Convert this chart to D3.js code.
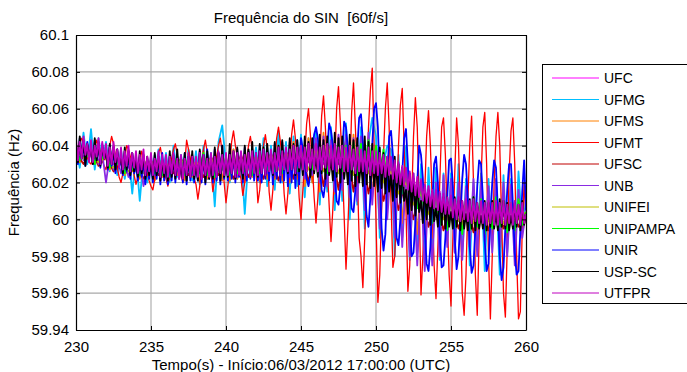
<!DOCTYPE html>
<html>
<head>
<meta charset="utf-8">
<script src="https://cdn.jsdelivr.net/npm/d3@7"></script>
<style>
  html, body { margin: 0; padding: 0; background: #fff; }
  svg { display: block; font-family: "Liberation Sans", Arial, sans-serif; }
</style>
</head>
<body>
<svg id="chart" width="687" height="372"></svg>
<script>
// Frequência do SIN, 30 s window, one trace per PMU site.
// Samples are stored as deviation from 60 Hz in mHz, evenly spaced over the window
// (each array carries its own sample count: 61, 121 or 241 points).
const F0 = 60;
const T_START = 230, T_END = 260;

const xTicks = [230, 235, 240, 245, 250, 255, 260];
const yTicks = [59.94, 59.96, 59.98, 60, 60.02, 60.04, 60.06, 60.08, 60.1];
const yTickLabels = ["59.94", "59.96", "59.98", "60", "60.02", "60.04", "60.06", "60.08", "60.1"];

const siteNames = ["UFC", "UFMG", "UFMS", "UFMT", "UFSC", "UNB", "UNIFEI", "UNIPAMPA", "UNIR", "USP-SC", "UTFPR"];
const siteColors = ["#ff00ff", "#00bfff", "#ff8000", "#ff0000", "#bf0000", "#8a2be2", "#bfbf00", "#00ff00", "#0000ff", "#000000", "#bf00bf"];

// 0.5 s spacing
const UFC = [39,34, 37,32, 35,30, 33,28, 31,27, 32,27, 31,28, 32,27, 30,28, 32,27,
  31,29, 32,28, 33,29, 34,29, 35,30, 36,31, 36,30, 35,30, 35,29, 34,29,
  32,26, 28,22, 22,16, 17,11, 12,7, 10,5, 8,4, 7,3, 6,2, 6,2, 3];

// 0.25 s spacing
const UFMG = [40,28,47,30, 49,27,44,31, 42,26,40,24, 38,22,36,14, 35,10,33,20,
  34,22,38,24, 36,20,40,23, 35,22,38,21, 37,19,40,22, 36,7,42,51,
  30,20,38,22, 36,3,34,24, 39,20,44,18, 40,16,48,20, 42,14,45,18,
  46,12,44,20, 48,8,42,15, 50,5,44,10, 52,0,40,8, 50,-5,42,55,
  45,-10,30,40, 38,-20,35,-10, 40,-22,25,-18, 30,-25,28,-15, 28,-22,25,-10,
  25,-18,30,-20, 22,-25,20,-15, 25,-28,22,-12, 20,-30,24,-18, 22,-20,26,-5, 10];

// 0.25 s spacing
const UFMS = [37,31,41,33, 36,30,40,32, 33,27,37,29, 31,24,34,26, 29,22,32,24,
  30,21,34,23, 31,22,35,24, 30,21,36,23, 32,20,37,22, 31,22,36,21,
  33,21,38,22, 32,20,37,23, 34,21,39,22, 35,22,40,21, 36,20,42,22,
  38,18,44,20, 40,15,47,18, 42,14,45,16, 40,12,46,14, 42,10,44,12,
  38,5,34,8, 30,0,28,-2, 24,-5,20,-8, 18,-8,15,-10, 15,-10,12,-8,
  14,-9,16,-6, 12,-10,14,-8, 13,-7,12,-9, 11,-8,13,-6, 12,-5,10,-7, 2];

// 0.125 s spacing, one row per second
const UFMT = [
  36,38,41,44,42,38,34,31,
  30,33,38,43,40,36,32,29,
  27,32,40,45,41,35,28,23,
  20,25,33,40,38,34,30,24,
  19,23,30,37,34,30,25,21,
  18,16,22,30,36,39,33,26,
  22,18,24,33,38,41,35,28,
  24,20,30,43,38,33,28,22,
  19,11,18,30,38,43,36,30,
  26,15,22,34,40,44,36,20,
  9,18,30,42,48,40,34,26,
  22,13,20,32,40,45,38,32,
  28,9,16,30,40,46,38,15,
  5,16,30,44,50,42,34,14,
  3,14,30,46,54,44,33,12,
  0,16,34,52,60,46,30,12,
  -2,12,32,56,67,50,28,8,
  -12,6,30,60,72,52,30,2,
  -27,-4,24,58,74,50,25,-10,
  -20,-37,-10,20,50,70,82,40,
  0,-45,-30,5,35,60,74,50,
  10,-26,-20,8,40,62,71,40,
  5,-39,-25,10,45,66,50,10,
  -41,-20,15,45,59,40,10,-25,
  -43,-15,20,50,55,35,0,-30,
  -47,-10,25,55,40,5,-40,-52,
  -30,10,40,56,20,-30,-52,-10,
  20,50,58,30,-20,-54,-20,20,
  45,58,40,0,-40,-53,-15,25,
  48,55,30,-20,-54,-50,-5,20,
  0];

// 0.5 s spacing
const UFSC = [36,30, 38,29, 34,26, 31,24, 30,22, 32,24, 30,25, 33,24, 31,23, 34,24,
  32,22, 35,23, 33,22, 36,21, 37,22, 40,20, 42,18, 41,16, 43,15, 40,14,
  35,10, 28,5, 22,0, 16,-4, 12,-6, 10,-5, 9,-7, 10,-6, 8,-5, 9,-4, 3];

// 0.25 s spacing
const UNB = [36,40,32,38, 34,39,30,36, 20,35,27,33, 25,32,23,30, 26,31,18,29,
  28,24,33,26, 30,23,34,27, 32,25,31,24, 29,26,35,25, 33,24,36,27,
  31,25,34,23, 33,24,35,26, 34,22,36,25, 32,24,38,26, 37,23,39,25,
  40,22,42,24, 44,20,45,18, 43,15,46,16, 46,12,44,10, 45,5,47,8,
  40,-5,35,0, 30,-10,28,-15, 25,-20,22,-25, 22,-28,18,-25, 20,-20,24,-15,
  22,-18,20,-22, 18,-15,22,-20, 20,-12,18,-18, 22,-15,20,-20, 19,-25,16,-10, 5];

// 0.5 s spacing
const UNIFEI = [38,33, 37,31, 34,28, 32,26, 30,25, 31,26, 30,27, 32,26, 31,27, 33,26,
  32,28, 33,27, 34,28, 35,27, 36,28, 37,27, 38,26, 39,25, 38,24, 37,25,
  33,20, 26,14, 20,8, 14,3, 11,0, 9,-1, 8,-2, 7,-1, 8,-2, 6,0, 4];

// 0.25 s spacing
const UNIPAMPA = [40,32,42,34, 38,30,40,33, 35,28,37,30, 33,25,35,27, 30,24,33,26,
  32,25,34,24, 31,23,35,26, 33,24,34,25, 30,25,36,24, 32,23,35,27,
  34,24,33,25, 32,26,35,24, 34,25,36,27, 33,26,37,25, 35,27,38,26,
  37,28,39,27, 38,26,40,25, 39,24,41,26, 40,25,42,24, 41,28,43,26,
  40,25,38,20, 32,18,30,14, 25,10,22,6, 18,2,15,-2, 14,-4,12,-6,
  12,-5,10,-8, 10,-6,12,-4, 11,-8,9,-5, 12,-4,10,-7, 9,-6,11,-3, 4];

// 0.125 s spacing, one row per second
const UNIR = [
  40,30,44,33,41,29,42,34,
  39,30,43,32,40,28,41,33,
  36,27,40,29,37,25,38,28,
  33,24,37,26,35,22,36,25,
  30,21,34,23,32,19,33,22,
  31,20,35,22,33,19,36,21,
  30,19,34,21,35,20,33,22,
  32,20,36,19,34,21,35,20,
  31,21,37,20,35,19,38,22,
  33,20,38,21,36,19,40,22,
  34,21,37,22,36,20,38,23,
  35,20,39,21,37,22,38,21,
  36,21,40,20,38,22,39,21,
  37,19,41,22,39,20,42,21,
  38,18,42,20,40,17,43,19,
  44,38,30,22,18,24,36,46,
  50,44,30,16,12,20,38,52,
  48,40,24,10,8,18,36,53,
  50,38,20,6,4,16,38,55,
  57,42,18,2,-4,12,40,60,
  63,50,22,-5,-17,-8,20,45,
  48,35,10,-10,-14,0,25,44,
  49,30,0,-20,-18,-2,20,40,
  35,22,-5,-24,-28,-15,8,30,
  34,20,-8,-26,-25,-10,12,32,
  33,18,-10,-27,-20,0,22,35,
  30,10,-15,-29,-25,-5,18,32,
  30,12,-12,-28,-24,0,20,32,
  28,5,-20,-33,-26,-4,16,30,
  30,8,-18,-30,-28,-6,15,32,
  5];

// 0.125 s spacing, one row per second
const USP_SC = [
  39,31,45,33,43,29,41,34,
  38,30,44,32,42,29,40,33,
  36,28,41,30,39,27,38,29,
  34,25,39,27,37,24,36,26,
  32,23,37,25,35,22,34,24,
  31,22,36,24,34,21,33,23,
  30,21,37,23,33,22,38,24,
  29,22,36,21,34,23,37,22,
  30,21,38,23,35,20,37,22,
  31,22,39,24,36,21,40,23,
  30,23,41,25,37,22,39,24,
  31,22,40,24,38,23,42,25,
  32,23,41,25,39,24,41,26,
  33,24,42,26,40,25,43,27,
  34,25,44,27,41,24,43,26,
  35,24,45,26,42,23,44,25,
  34,23,46,25,43,22,45,24,
  33,21,47,23,44,20,45,22,
  32,19,46,21,43,18,44,20,
  31,18,45,19,42,17,41,18,
  29,15,39,17,36,14,34,15,
  24,10,34,12,30,9,28,10,
  16,3,25,5,22,2,20,4,
  10,-2,18,0,16,-3,15,-1,
  6,-4,14,-3,12,-5,12,-4,
  4,-5,12,-4,10,-6,10,-5,
  3,-6,11,-5,12,-6,9,-5,
  2,-5,10,-6,9,-4,10,-5,
  3,-6,11,-4,10,-5,9,-6,
  2,-5,9,-4,8,-6,10,-3,
  3];

// 0.125 s spacing, one row per second
const UTFPR = [
  44,32,42,33,45,35,41,31,
  43,31,40,34,44,30,42,33,
  41,29,39,30,42,31,38,28,
  39,27,37,29,40,26,36,28,
  37,25,35,27,38,24,34,26,
  36,24,33,26,37,23,35,25,
  35,23,34,25,36,24,33,22,
  35,22,33,24,36,23,34,24,
  34,23,36,22,35,24,33,23,
  36,24,34,23,37,25,35,24,
  36,24,35,25,37,23,36,24,
  37,25,35,24,36,23,37,25,
  36,24,37,25,38,24,36,26,
  38,25,36,26,39,24,37,27,
  39,26,38,27,40,25,39,28,
  40,27,39,26,41,28,38,27,
  41,26,39,27,40,28,41,26,
  40,27,41,26,39,28,40,26,
  39,26,40,27,38,25,39,26,
  38,26,37,25,39,24,37,25,
  37,24,36,25,35,23,34,24,
  34,22,32,20,31,19,29,18,
  28,16,26,15,25,13,23,12,
  21,10,19,9,18,7,16,6,
  16,5,15,4,14,3,12,3,
  13,1,11,0,12,-1,10,0,
  11,-1,10,-2,11,-1,9,-2,
  10,-2,9,-3,10,-2,9,-3,
  10,-3,9,-2,10,-3,8,-2,
  9,-3,10,-2,8,-3,9,-2,
  3];

const siteValues = [UFC, UFMG, UFMS, UFMT, UFSC, UNB, UNIFEI, UNIPAMPA, UNIR, USP_SC, UTFPR];

// Build the table of traces: time from sample index, frequency in Hz
const traces = siteNames.map((name, k) => {
  const vals = siteValues[k];
  const dt = (T_END - T_START) / (vals.length - 1);
  return {
    name,
    color: siteColors[k],
    points: vals.map((d, i) => ({ t: T_START + i * dt, f: F0 + d / 1000 }))
  };
});

const svg = d3.select("#chart");
const margin = { left: 76, right: 161, top: 35, bottom: 42 };
const W = 687, H = 372;
const plotW = W - margin.left - margin.right;   // 450
const plotH = H - margin.top - margin.bottom;   // 295

const x = d3.scaleLinear().domain([T_START, T_END]).range([margin.left, margin.left + plotW]);
const y = d3.scaleLinear().domain([59.94, 60.1]).range([margin.top + plotH, margin.top]);

svg.append("rect").attr("x", 0).attr("y", 0).attr("width", W).attr("height", H).attr("fill", "#fff");

// grid
const grid = svg.append("g").attr("stroke", "#a8a8a8").attr("stroke-width", 1.1);
grid.selectAll("line.gx").data(xTicks.slice(1, -1)).join("line")
  .attr("x1", d => x(d)).attr("x2", d => x(d))
  .attr("y1", y.range()[1]).attr("y2", y.range()[0]);
grid.selectAll("line.gy").data(yTicks.slice(1, -1)).join("line")
  .attr("y1", d => y(d)).attr("y2", d => y(d))
  .attr("x1", x.range()[0]).attr("x2", x.range()[1]);

// traces
svg.append("clipPath").attr("id", "plotClip")
  .append("rect").attr("x", margin.left).attr("y", margin.top).attr("width", plotW).attr("height", plotH);

const line = d3.line().x(d => x(d.t)).y(d => y(d.f));
svg.append("g").attr("clip-path", "url(#plotClip)")
  .selectAll("path").data(traces).join("path")
  .attr("d", d => line(d.points))
  .attr("fill", "none")
  .attr("stroke", d => d.color)
  .attr("stroke-width", d => d.name === "UFMT" ? 1.3 : 1.8)
  .attr("stroke-linejoin", "round");

// axes (ticks pointing inward, box on all four sides)
const fmtY = d => yTickLabels[yTicks.indexOf(d)];
const axB = svg.append("g").attr("transform", `translate(0,${margin.top + plotH})`)
  .call(d3.axisBottom(x).tickValues(xTicks).tickSizeInner(-4).tickSizeOuter(0).tickPadding(11).tickFormat(d3.format("d")));
const axL = svg.append("g").attr("transform", `translate(${margin.left},0)`)
  .call(d3.axisLeft(y).tickValues(yTicks).tickSizeInner(-4).tickSizeOuter(0).tickPadding(7).tickFormat(fmtY));
const axT = svg.append("g").attr("transform", `translate(0,${margin.top})`)
  .call(d3.axisTop(x).tickValues(xTicks).tickSizeInner(-4).tickSizeOuter(0).tickFormat(""));
const axR = svg.append("g").attr("transform", `translate(${margin.left + plotW},0)`)
  .call(d3.axisRight(y).tickValues(yTicks).tickSizeInner(-4).tickSizeOuter(0).tickFormat(""));

[axB, axL, axT, axR].forEach(g => {
  g.select(".domain").attr("stroke", "#000").attr("stroke-width", 1.2);
  g.selectAll(".tick line").attr("stroke", "#000");
  g.selectAll("text").attr("font-size", 15).attr("fill", "#000")
    .attr("font-family", "'Liberation Sans', Arial, sans-serif");
});

// titles
svg.append("text").attr("x", x(245)).attr("y", 23).attr("text-anchor", "middle")
  .attr("font-size", 15).style("white-space", "pre").text("Frequência do SIN  [60f/s]");
svg.append("text").attr("x", x(245)).attr("y", 370).attr("text-anchor", "middle")
  .attr("font-size", 15).text("Tempo(s) - Início:06/03/2012 17:00:00 (UTC)");
svg.append("text").attr("transform", `translate(19,${margin.top + plotH / 2}) rotate(-90)`)
  .attr("text-anchor", "middle").attr("font-size", 15).text("Frequência (Hz)");

// legend
const lg = svg.append("g");
lg.append("rect").attr("x", 542.5).attr("y", 64.5).attr("width", 150).attr("height", 239)
  .attr("fill", "#fff").attr("stroke", "#000").attr("stroke-width", 1);
const items = lg.selectAll("g.item").data(traces).join("g")
  .attr("transform", (d, i) => `translate(0,${78 + i * 21.5})`);
items.append("line").attr("x1", 552).attr("x2", 599).attr("y1", 0).attr("y2", 0)
  .attr("stroke", d => d.color).attr("stroke-width", 1);
items.append("text").attr("x", 604).attr("y", 5).attr("font-size", 14).text(d => d.name);
</script>
</body>
</html>
